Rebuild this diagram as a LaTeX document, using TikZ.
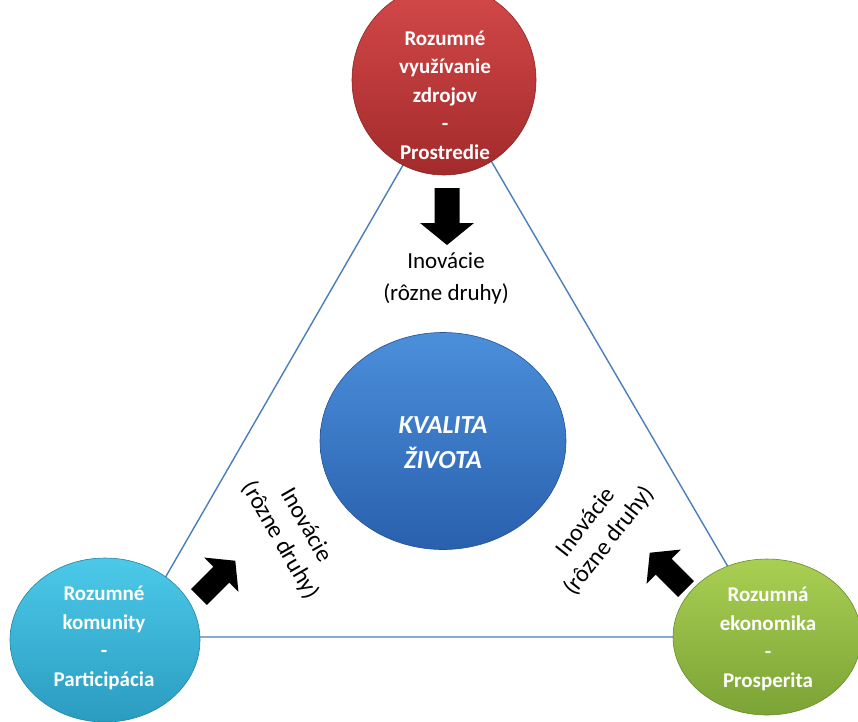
\documentclass[tikz,border=0pt]{standalone}
\usepackage{fontspec}
\setmainfont{Carlito}
\usetikzlibrary{shapes.geometric}
\definecolor{lineblue}{HTML}{4A7EBB}
\definecolor{redtop}{HTML}{D4494A}
\definecolor{redbot}{HTML}{A32A2B}
\definecolor{cyantop}{HTML}{4CC9E9}
\definecolor{cyanbot}{HTML}{2A9CC0}
\definecolor{greentop}{HTML}{A9CF52}
\definecolor{greenbot}{HTML}{7BA336}
\definecolor{bluetop}{HTML}{4B8FDA}
\definecolor{bluebot}{HTML}{2960AE}
\begin{document}
\begin{tikzpicture}[x=1pt,y=-1pt,
  bub/.style={ellipse, inner sep=0pt, line width=0.6pt},
  btxt/.style={text=white, font=\fontsize{21}{28.5}\selectfont\bfseries, align=center},
  ctxt/.style={text=white, font=\fontsize{26}{35}\selectfont\bfseries\itshape, align=center},
  inotxt/.style={text=black, font=\fontsize{23}{32}\selectfont, align=center},
  rotino/.style={text=black, font=\fontsize{24}{30}\selectfont, align=center},
  side/.style={draw=lineblue, line width=1.4pt},
  barrow/.pic={\fill[black] (0,-12.5)--(35,-12.5)--(35,-27)--(57,0)--(35,27)--(35,12.5)--(0,12.5)--cycle;}]
\useasboundingbox (0,0) rectangle (858,721);
\coordinate (A) at (448,87);
\coordinate (B) at (131,637);
\coordinate (C) at (769,637);
\draw[side] (A) -- (B) -- (C) -- cycle;

\node[bub, minimum width=184pt, minimum height=190pt, top color=redtop, bottom color=redbot, draw=redbot!85!black] (red) at (444,80) {};
\node[bub, minimum width=190pt, minimum height=164pt, top color=cyantop, bottom color=cyanbot, draw=cyanbot!85!black] (cyan) at (105,640) {};
\node[bub, minimum width=188pt, minimum height=156pt, top color=greentop, bottom color=greenbot, draw=greenbot!85!black] (green) at (767,637) {};
\node[bub, minimum width=246pt, minimum height=217pt, top color=bluetop, bottom color=bluebot, draw=bluebot!85!black] (blue) at (443,441) {};

\node[btxt] (redt) at (445,95) {Rozumné\\využívanie\\zdrojov\\-\\Prostredie};
\node[btxt] (cyant) at (104,638) {Rozumné\\komunity\\-\\Participácia};
\node[btxt] (greent) at (768,639) {Rozumná\\ekonomika\\-\\Prosperita};
\node[ctxt] (bluet) at (443,443) {KVALITA\\ŽIVOTA};

\node[inotxt] (inoT) at (446,278) {Inovácie\\(rôzne druhy)};
\node[rotino, rotate=-60] (inoL) at (293,533) {Inovácie\\(rôzne druhy)};
\node[rotino, rotate=52] (inoR) at (598,532) {Inovácie\\(rôzne druhy)};

\pic[rotate=-90] at (447,188) {barrow};
\pic[rotate=45, scale=0.9] at (199,597) {barrow};
\pic[rotate=135, scale=0.9] at (686,589) {barrow};
\end{tikzpicture}
\end{document}
